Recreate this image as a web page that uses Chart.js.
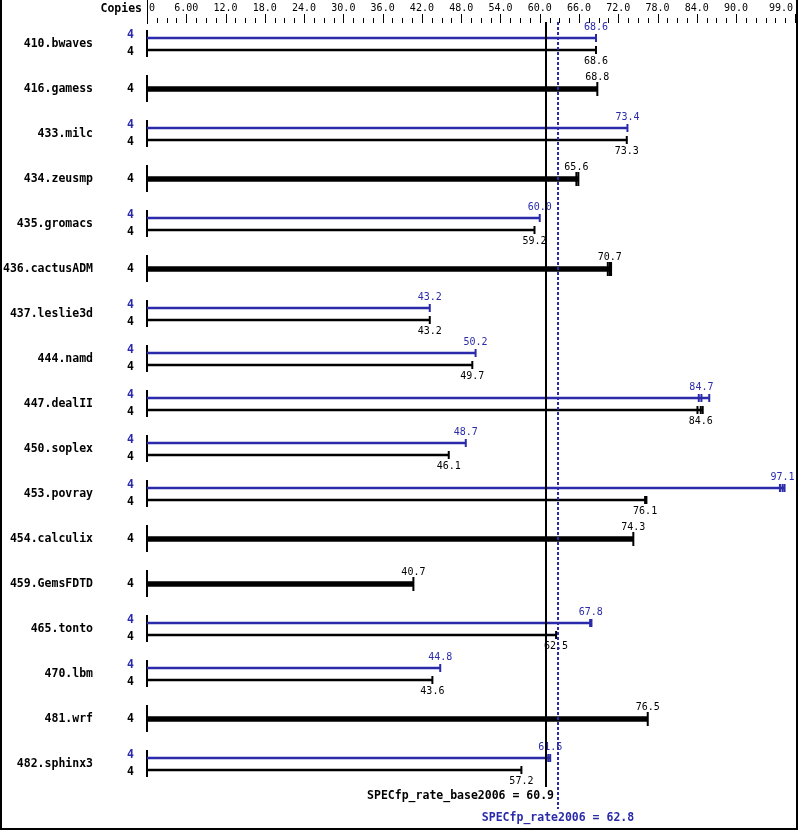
<!DOCTYPE html>
<html><head><meta charset="utf-8">
<script src="https://cdn.jsdelivr.net/npm/chart.js@4/dist/chart.umd.min.js"></script>
<style>html,body{margin:0;padding:0;background:#fff}#wrap{width:799px;height:831px;position:relative}canvas{display:block}</style>
</head><body><div id="wrap"><canvas id="c" width="799" height="831"></canvas></div>
<script>
const benchmarks = ['410.bwaves','416.gamess','433.milc','434.zeusmp','435.gromacs','436.cactusADM','437.leslie3d','444.namd','447.dealII','450.soplex','453.povray','454.calculix','459.GemsFDTD','465.tonto','470.lbm','481.wrf','482.sphinx3'];
const peakCopies = [4,null,4,null,4,null,4,4,4,4,4,null,null,4,4,null,4];
const baseCopies = [4,4,4,4,4,4,4,4,4,4,4,4,4,4,4,4,4];
const baseValues = [68.6,68.8,73.3,65.6,59.2,70.7,43.2,49.7,84.6,46.1,76.1,74.3,40.7,62.5,43.6,76.5,57.2];
const peakValues = [68.6,null,73.4,null,60.0,null,43.2,50.2,84.7,48.7,97.1,null,null,67.8,44.8,null,61.6];
const baseRuns = [[68.6],[68.8],[73.3],[65.6,65.9],[59.2],[70.4,70.7,70.9],[43.2],[49.7],[84.1,84.6,84.9],[46.1],[76.1,76.3],[74.3],[40.7],[62.5],[43.6],[76.5],[57.2]];
const peakRuns = [[68.6],null,[73.4],null,[60.0],null,[43.2],[50.2],[84.3,84.7,85.9],[48.7],[96.7,97.1,97.4],null,null,[67.7,67.9],[44.8],null,[61.3,61.6]];
const tickValues = [0,6,12,18,24,30,36,42,48,54,60,66,72,78,84,90,99];
const tickLabels = ['0','6.00','12.0','18.0','24.0','30.0','36.0','42.0','48.0','54.0','60.0','66.0','72.0','78.0','84.0','90.0','99.0'];
const minorStep = 1.5;
const specBase = 60.9, specPeak = 62.8;
const baseLabel = 'SPECfp_rate_base2006 = 60.9';
const peakLabel = 'SPECfp_rate2006 = 62.8';

const BLUE = '#2a2aaa', BLACK = '#000000';
const ROW_PX = 45, FIRST_PX = 44, OFF = 6 / ROW_PX;
const H = 831;

// Build datasets from the arrays
const peakBars = [], baseBars = [], singleBars = [];
const peakCaps = [], baseCaps = [], singleCaps = [];
benchmarks.forEach((b, i) => {
  if (peakValues[i] != null) {
    const pr = peakRuns[i] || [peakValues[i]];
    const br = baseRuns[i] || [baseValues[i]];
    peakBars.push({x: Math.max(peakValues[i], ...pr), y: i - OFF});
    baseBars.push({x: Math.max(baseValues[i], ...br), y: i + OFF});
    pr.forEach(v => peakCaps.push({x: v, y: i - OFF}));
    br.forEach(v => baseCaps.push({x: v, y: i + OFF}));
  } else {
    const br = baseRuns[i] || [baseValues[i]];
    singleBars.push({x: Math.max(baseValues[i], ...br), y: i});
    br.forEach(v => singleCaps.push({x: v, y: i}));
  }
});

const MONO = "'DejaVu Sans Mono', 'Liberation Mono', monospace";
const FONT_N = "10px " + MONO;
const FONT_B = "bold 11.5px " + MONO;

const decor = {
  id: 'decor',
  beforeDatasetsDraw(chart) {
    const ctx = chart.ctx, xs = chart.scales.x, ys = chart.scales.y;
    const x0 = Math.round(xs.getPixelForValue(0));
    ctx.save();
    // top axis
    ctx.strokeStyle = BLACK; ctx.lineWidth = 1;
    ctx.beginPath(); ctx.moveTo(x0 + 0.5, 0); ctx.lineTo(x0 + 0.5, 24); ctx.stroke();
    const maxV = tickValues[tickValues.length - 1];
    for (let v = 0; v <= maxV + 1e-9; v += minorStep) {
      const px = Math.round(xs.getPixelForValue(v)) + 0.5;
      const major = tickValues.some(t => Math.abs(t - v) < 1e-6);
      ctx.beginPath(); ctx.moveTo(px, major ? 14 : 18); ctx.lineTo(px, 23); ctx.stroke();
    }
    ctx.fillStyle = BLACK; ctx.font = FONT_N; ctx.textBaseline = 'middle';
    tickValues.forEach((v, k) => {
      const px = xs.getPixelForValue(v);
      if (k === 0) { ctx.textAlign = 'left'; ctx.fillText(tickLabels[k], px + 2, 8); }
      else if (k === tickValues.length - 1) { ctx.textAlign = 'right'; ctx.fillText(tickLabels[k], px - 2, 8); }
      else { ctx.textAlign = 'center'; ctx.fillText(tickLabels[k], px, 8); }
    });
    ctx.font = FONT_B; ctx.textAlign = 'right';
    ctx.fillText('Copies', x0 - 5, 9);
    // rows
    benchmarks.forEach((b, i) => {
      const yc = Math.round(ys.getPixelForValue(i));
      ctx.strokeStyle = BLACK; ctx.lineWidth = 2;
      ctx.beginPath(); ctx.moveTo(x0, yc - 14); ctx.lineTo(x0, yc + 13); ctx.stroke();
      ctx.font = FONT_B; ctx.textAlign = 'right'; ctx.fillStyle = BLACK;
      ctx.fillText(b, 93, yc);
      if (peakValues[i] != null) {
        ctx.fillStyle = BLUE; ctx.fillText(String(peakCopies[i]), 134, yc - 9);
        ctx.fillStyle = BLACK; ctx.fillText(String(baseCopies[i]), 134, yc + 8);
      } else {
        ctx.fillText(String(baseCopies[i]), 134, yc);
      }
    });
    ctx.restore();
  },
  afterDatasetsDraw(chart) {
    const ctx = chart.ctx, xs = chart.scales.x, ys = chart.scales.y;
    ctx.save();
    ctx.font = FONT_N; ctx.textAlign = 'center'; ctx.textBaseline = 'middle';
    benchmarks.forEach((b, i) => {
      if (peakValues[i] != null) {
        ctx.fillStyle = BLUE;
        ctx.fillText(peakValues[i].toFixed(1), xs.getPixelForValue(peakValues[i]), ys.getPixelForValue(i - OFF) - 10.5);
        ctx.fillStyle = BLACK;
        ctx.fillText(baseValues[i].toFixed(1), xs.getPixelForValue(baseValues[i]), ys.getPixelForValue(i + OFF) + 11);
      } else {
        ctx.fillStyle = BLACK;
        ctx.fillText(baseValues[i].toFixed(1), xs.getPixelForValue(baseValues[i]), ys.getPixelForValue(i) - 12);
      }
    });
    // reference lines
    const yTop = 22;
    const bx = Math.round(xs.getPixelForValue(specBase));
    const pxp = Math.round(xs.getPixelForValue(specPeak));
    const yLast = ys.getPixelForValue(benchmarks.length - 1);
    ctx.strokeStyle = BLACK; ctx.lineWidth = 2;
    ctx.beginPath(); ctx.moveTo(bx, yTop); ctx.lineTo(bx, yLast + 23); ctx.stroke();
    ctx.strokeStyle = BLUE; ctx.setLineDash([3, 2]);
    ctx.beginPath(); ctx.moveTo(pxp, yTop); ctx.lineTo(pxp, yLast + 45); ctx.stroke();
    ctx.setLineDash([]);
    ctx.font = FONT_B;
    ctx.fillStyle = BLACK; ctx.textAlign = 'right';
    ctx.fillText(baseLabel, bx + 8, yLast + 32);
    ctx.fillStyle = BLUE; ctx.textAlign = 'center';
    ctx.fillText(peakLabel, pxp, yLast + 54);
    // frame
    ctx.strokeStyle = BLACK; ctx.lineWidth = 2;
    ctx.beginPath(); ctx.moveTo(1, 0); ctx.lineTo(1, H - 2); ctx.lineTo(797, H - 2); ctx.lineTo(797, 0); ctx.stroke();
    ctx.restore();
  }
};

const capOpts = (color, r) => ({
  type: 'scatter', showLine: false, pointStyle: 'line', pointRotation: 90,
  pointRadius: r, pointHoverRadius: r, pointBorderWidth: 2, pointBorderColor: color,
  pointBackgroundColor: color, borderColor: color, clip: false
});

new Chart(document.getElementById('c'), {
  type: 'scatter',
  data: {
    datasets: [
      {type: 'bar', indexAxis: 'y', data: peakBars, backgroundColor: BLUE, barThickness: 2, grouped: false, borderWidth: 0},
      {type: 'bar', indexAxis: 'y', data: baseBars, backgroundColor: BLACK, barThickness: 2, grouped: false, borderWidth: 0},
      {type: 'bar', indexAxis: 'y', data: singleBars, backgroundColor: BLACK, barThickness: 5, grouped: false, borderWidth: 0},
      Object.assign({data: peakCaps}, capOpts(BLUE, 4)),
      Object.assign({data: baseCaps}, capOpts(BLACK, 4)),
      Object.assign({data: singleCaps}, capOpts(BLACK, 7))
    ]
  },
  options: {
    responsive: false, animation: false, devicePixelRatio: 1,
    layout: {autoPadding: false, padding: {left: 147, right: 4, top: 0, bottom: 0}},
    plugins: {legend: {display: false}, tooltip: {enabled: false}},
    events: [],
    scales: {
      x: {type: 'linear', min: 0, max: 99, display: false, offset: false},
      y: {type: 'linear', reverse: true, offset: false, min: -FIRST_PX / ROW_PX, max: (H - FIRST_PX) / ROW_PX, display: false}
    }
  },
  plugins: [decor]
});
</script></body></html>
